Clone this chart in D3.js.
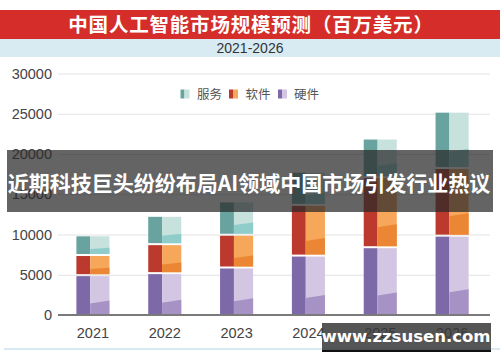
<!DOCTYPE html>
<html>
<head>
<meta charset="utf-8">
<script src="https://cdn.jsdelivr.net/npm/d3@7"></script>
<style>
  body { margin: 0; background: #fff; }
  svg { display: block; }
</style>
</head>
<body>
<script>
var years = ["2021", "2022", "2023", "2024", "2025", "2026"];
var hardware = [4950, 5200, 5900, 7380, 8420, 9860];
var software = [2500, 3600, 4070, 6300, 8700, 8400];
var services = [2450, 3520, 4140, 4120, 4800, 7000];
var yTicks = [0, 5000, 10000, 15000, 20000, 25000, 30000];

var seriesNames = { hardware: "硬件", software: "软件", services: "服务" };
var colors = {
  hardware: { left: "#7d68a8", top: "#d2c6e2", bot: "#a692c4" },
  software: { left: "#bb3a2d", top: "#f6a759", bot: "#ea8634" },
  services: { left: "#68a39f", top: "#c7e1dd", bot: "#8ecdca" }
};

var width = 500, height = 362;
var numFont = "'Liberation Sans', Arial, sans-serif";
var cjkFont = "'Noto Sans CJK SC', sans-serif";

var svg = d3.select("body").append("svg")
    .attr("width", width)
    .attr("height", height);

// title banner
svg.append("rect").attr("x", 0).attr("y", 10).attr("width", 500).attr("height", 29).attr("fill", "#d42d2a");
svg.append("rect").attr("x", 0).attr("y", 39).attr("width", 500).attr("height", 18).attr("fill", "#d8ebf3");
svg.append("text")
    .attr("x", 251).attr("y", 25).attr("dy", "0.36em")
    .attr("text-anchor", "middle")
    .style("font-family", cjkFont).style("font-weight", "bold").style("font-size", "19.5px")
    .style("letter-spacing", "0.8px")
    .attr("fill", "#fff")
    .text("中国人工智能市场规模预测（百万美元）");
svg.append("text")
    .attr("x", 250).attr("y", 48).attr("dy", "0.36em")
    .attr("text-anchor", "middle")
    .style("font-family", numFont).style("font-size", "14px")
    .attr("fill", "#333")
    .text("2021-2026");

// bottom rule
svg.append("rect").attr("x", 4).attr("y", 348).attr("width", 496).attr("height", 2).attr("fill", "#d8ebf3");

var x = d3.scaleBand()
    .domain(years)
    .range([57, 488])
    .paddingInner(0.54)
    .paddingOuter(0.27);

var y = d3.scaleLinear()
    .domain([0, 30000])
    .range([315, 73.5]);

// grid
svg.append("g")
    .selectAll("line")
    .data(yTicks.slice(1))
    .enter().append("line")
    .attr("x1", 58).attr("x2", 490)
    .attr("y1", function (d) { return y(d) + 0.5; })
    .attr("y2", function (d) { return y(d) + 0.5; })
    .attr("stroke", "#e2e2e2");

var yAxis = d3.axisLeft(y).tickValues(yTicks).tickFormat(d3.format("d")).tickSize(0).tickPadding(0);
var gy = svg.append("g").attr("transform", "translate(52,0)").call(yAxis);
gy.select(".domain").remove();
gy.selectAll("text")
    .style("font-family", numFont).style("font-size", "14.5px")
    .attr("fill", "#444");

var xAxis = d3.axisBottom(x).tickSize(0).tickPadding(0);
var gx = svg.append("g").attr("transform", "translate(0,328)").call(xAxis);
gx.select(".domain").remove();
gx.selectAll("text")
    .style("font-family", numFont).style("font-size", "14.5px")
    .attr("fill", "#444");

// stacked bars
var rows = years.map(function (yr, i) {
  return { year: yr, hardware: hardware[i], software: software[i], services: services[i] };
});
var keys = ["hardware", "software", "services"];
var stack = d3.stack().keys(keys)(rows);

var bw = x.bandwidth();
var leftW = bw * 0.42;

stack.forEach(function (layer) {
  var c = colors[layer.key];
  var g = svg.append("g");
  var seg = g.selectAll("g").data(layer).enter().append("g");

  seg.each(function (d) {
    var s = d3.select(this);
    var x0 = x(d.data.year);
    var top = y(d[1]) + 1;
    var bot = y(d[0]) - 1;
    var h = bot - top;
    s.append("rect")
        .attr("x", x0).attr("y", top)
        .attr("width", leftW).attr("height", h)
        .attr("fill", c.left);
    s.append("rect")
        .attr("x", x0 + leftW).attr("y", top)
        .attr("width", bw - leftW).attr("height", h)
        .attr("fill", c.top);
    var split = bot - h * 0.28;
    var slant = Math.min(3, h * 0.08);
    s.append("path")
        .attr("d", "M" + (x0 + leftW) + "," + split +
                   "L" + (x0 + bw) + "," + (split - slant) +
                   "L" + (x0 + bw) + "," + bot +
                   "L" + (x0 + leftW) + "," + bot + "Z")
        .attr("fill", c.bot);
  });
});

// baseline
svg.append("line")
    .attr("x1", 58).attr("x2", 490)
    .attr("y1", y(0)).attr("y2", y(0))
    .attr("stroke", "#7a7a7a").attr("stroke-width", 2);

// legend
var legendItems = [
  { key: "services", x: 180.5, tx: 197 },
  { key: "software", x: 229, tx: 245.5 },
  { key: "hardware", x: 278, tx: 294 }
];
var lg = svg.append("g").selectAll("g").data(legendItems).enter().append("g");
lg.append("rect")
    .attr("x", function (d) { return d.x; }).attr("y", 89.5)
    .attr("width", 4).attr("height", 9)
    .attr("fill", function (d) { return colors[d.key].left; });
lg.append("rect")
    .attr("x", function (d) { return d.x + 4; }).attr("y", 89.5)
    .attr("width", 5).attr("height", 9)
    .attr("fill", function (d) { return colors[d.key].top; });
lg.append("text")
    .attr("x", function (d) { return d.tx; }).attr("y", 94).attr("dy", "0.36em")
    .style("font-family", cjkFont).style("font-size", "12.5px")
    .attr("fill", "#555")
    .text(function (d) { return seriesNames[d.key]; });

// overlay headline band
svg.append("rect")
    .attr("x", 7).attr("y", 150).attr("width", 486).attr("height", 62)
    .attr("fill", "rgba(40,40,40,0.72)");
svg.append("text")
    .attr("x", 249).attr("y", 183).attr("dy", "0.36em")
    .attr("text-anchor", "middle")
    .style("font-family", cjkFont).style("font-weight", "bold").style("font-size", "21px")
    .attr("fill", "#fff")
    .text("近期科技巨头纷纷布局AI领域中国市场引发行业热议");

// watermark
svg.append("rect")
    .attr("x", 322).attr("y", 323).attr("width", 169).attr("height", 29)
    .attr("fill", "rgba(55,55,55,0.85)");
svg.append("rect")
    .attr("x", 322).attr("y", 350).attr("width", 169).attr("height", 2)
    .attr("fill", "#111");
svg.append("text")
    .attr("x", 406).attr("y", 336.5).attr("dy", "0.36em")
    .attr("text-anchor", "middle")
    .style("font-family", "'DejaVu Sans', sans-serif").style("font-weight", "bold").style("font-size", "16.5px")
    .attr("fill", "#fff")
    .text("www.zzsusen.com");
</script>
</body>
</html>
